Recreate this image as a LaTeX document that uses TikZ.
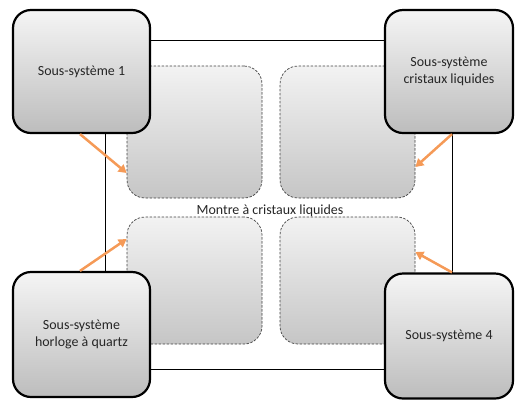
\documentclass[tikz,border=0pt]{standalone}
\usepackage{fontspec}
\setmainfont{Carlito}
\usetikzlibrary{arrows.meta}
\definecolor{arrorange}{HTML}{F59A57}
\tikzset{
  bigbox/.style={draw=black, line width=2.2bp, rounded corners=18bp,
    top color=gray!8, bottom color=gray!52, align=center,
    font=\fontsize{14}{17}\selectfont, text=black!85, inner sep=0pt},
  innerbox/.style={draw=black!75, dash pattern=on 2.5bp off 1.5bp, line width=0.7bp, rounded corners=18bp,
    top color=gray!10, bottom color=gray!45, inner sep=0pt,
    minimum width=135bp, minimum height=132bp},
  feed/.style={draw=arrorange, line width=2.5bp, -{Triangle[length=8bp,width=9bp]}}
}
\begin{document}
\begin{tikzpicture}[x=1bp,y=-1bp]
\useasboundingbox (0,0) rectangle (515,399);
\node[draw=black, line width=1bp, minimum width=347bp, minimum height=329bp, inner sep=0pt] (outer) at (278.5,204.5) {};
\node[innerbox] (itl) at (194.5,132) {};
\node[innerbox] (itr) at (347.5,132) {};
\node[innerbox, minimum height=127bp] (ibl) at (194.5,280.5) {};
\node[innerbox, minimum height=127bp] (ibr) at (347.5,280.5) {};
\node[font=\fontsize{14}{17}\selectfont, text=black!85] (lbl) at (270,210.5) {Montre à cristaux liquides};
\node[bigbox, minimum width=137bp, minimum height=123bp] (tl) at (81.5,71.5) {Sous-système 1};
\node[bigbox, minimum width=128bp, minimum height=123bp] (tr) at (449,71.5) {Sous-système\\cristaux liquides};
\node[bigbox, minimum width=137bp, minimum height=125bp] (bl) at (81.5,334.5) {Sous-système\\horloge à quartz};
\node[bigbox, minimum width=128bp, minimum height=125bp] (br) at (449,336) {Sous-système 4};
\draw[feed] ([xshift=-1.5bp]tl.south) -- ([yshift=-41bp]itl.west);
\draw[feed] ([xshift=3bp]tr.south) -- ([yshift=-35bp]itr.east);
\draw[feed] ([xshift=-1.5bp]bl.north) -- ([yshift=41.5bp]ibl.west);
\draw[feed] ([xshift=3bp]br.north) -- ([yshift=28.5bp]ibr.east);
\end{tikzpicture}
\end{document}
